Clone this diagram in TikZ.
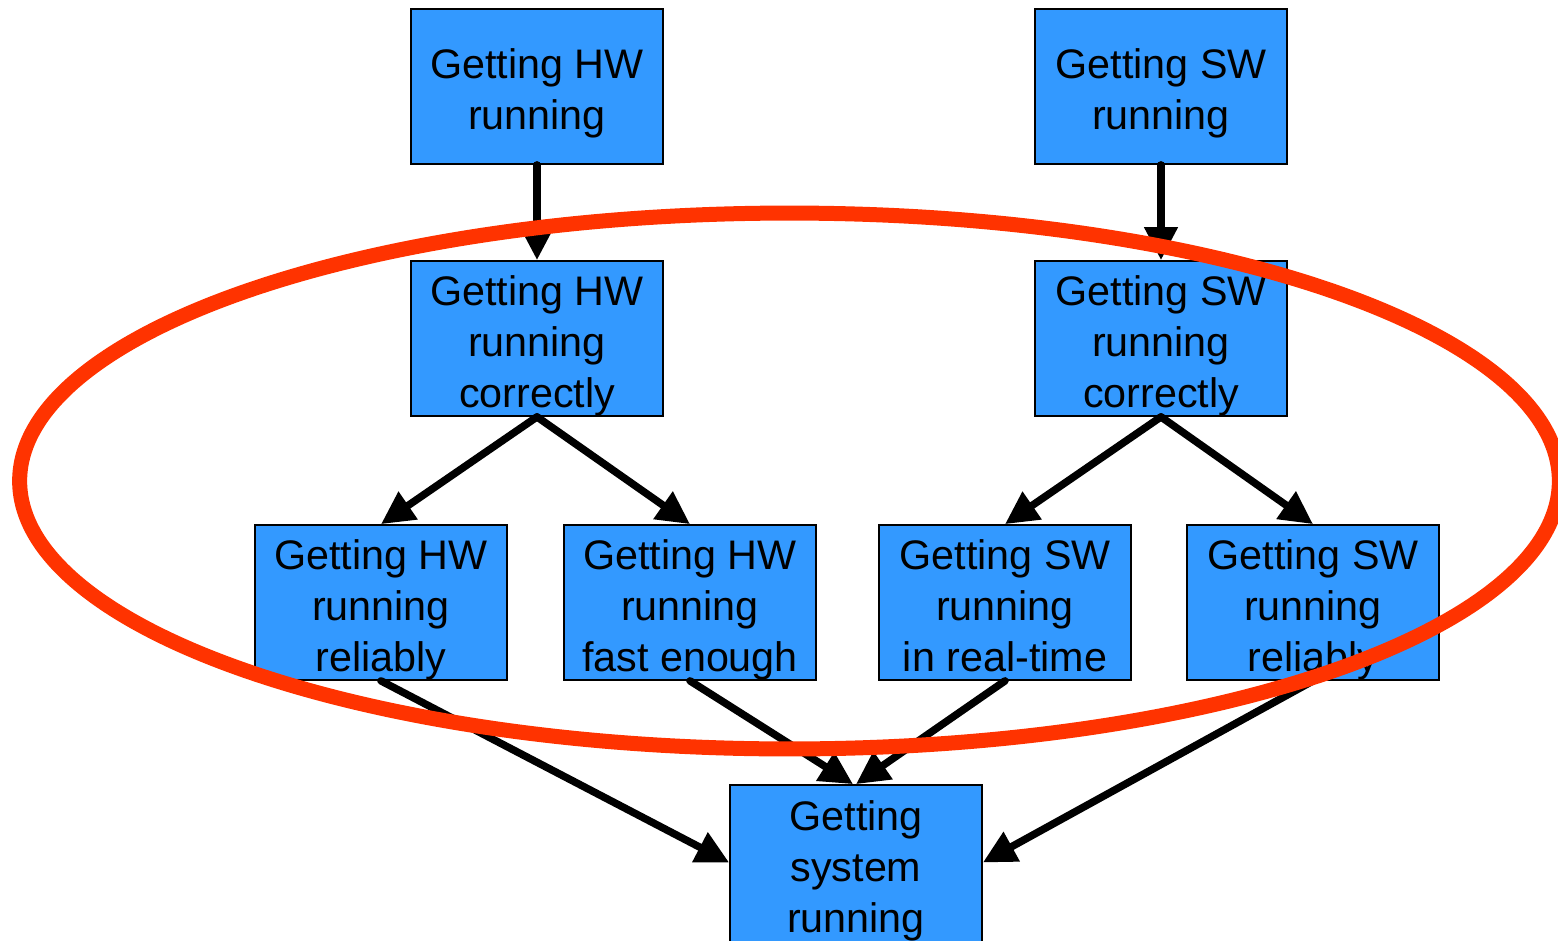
\documentclass[tikz,border=0pt]{standalone}
\usepackage{fontspec}
\setmainfont{Liberation Sans}
\usetikzlibrary{arrows.meta}
\definecolor{boxblue}{HTML}{3399FF}
\definecolor{ringred}{HTML}{FF3300}
\begin{document}
\begin{tikzpicture}[x=0.02cm,y=-0.02cm,
 boxtext/.style={inner sep=0pt,align=center,yshift=-0.14cm,font=\fontsize{23.5}{29}\selectfont},
 box/.style={draw=black,line width=1pt,fill=boxblue,minimum width=5.04cm,minimum height=3.1cm,inner sep=0pt,
   label={[boxtext]center:{#1}}},
 arr/.style={line width=0.15cm,line cap=round,-{Triangle[length=0.66cm,width=0.64cm]}},
 ring/.style={draw=ringred,line width=0.3cm}]
\useasboundingbox (0,0) rectangle (1558,940);
\node[box={Getting HW\\running}] (hw1) at (537,86.5) {};
\node[box={Getting SW\\running}] (sw1) at (1161,86.5) {};
\node[box={Getting HW\\running\\correctly}] (hw2) at (537,338.5) {};
\node[box={Getting SW\\running\\correctly}] (sw2) at (1161,338.5) {};
\node[box={Getting HW\\running\\reliably}] (hwrel) at (381,602.5) {};
\node[box={Getting HW\\running\\fast enough}] (hwfast) at (690,602.5) {};
\node[box={Getting SW\\running\\in real-time\vphantom{g}}] (swrt) at (1005,602.5) {};
\node[box={Getting SW\\running\\reliably}] (swrel) at (1313,602.5) {};
\node[box={Getting\\system\\running},minimum height=3.14cm] (sys) at (856,863.5) {};
\draw[arr] (hw1.south) -- (hw2.north);
\draw[arr] (sw1.south) -- (sw2.north);
\draw[arr] (hw2.south) -- (hwrel.north);
\draw[arr] (hw2.south) -- (hwfast.north);
\draw[arr] (sw2.south) -- (swrt.north);
\draw[arr] (sw2.south) -- (swrel.north);
\draw[arr] (hwrel.south) -- ([yshift=0.02cm]sys.west);
\draw[arr] (hwfast.south) -- ([xshift=-0.06cm]sys.north);
\draw[arr] (swrt.south) -- (sys.north);
\draw[arr] (swrel.south) -- ([yshift=0.02cm]sys.east);
\draw[ring] (789.5,481) ellipse [x radius=15.4cm, y radius=5.36cm];
\end{tikzpicture}
\end{document}
